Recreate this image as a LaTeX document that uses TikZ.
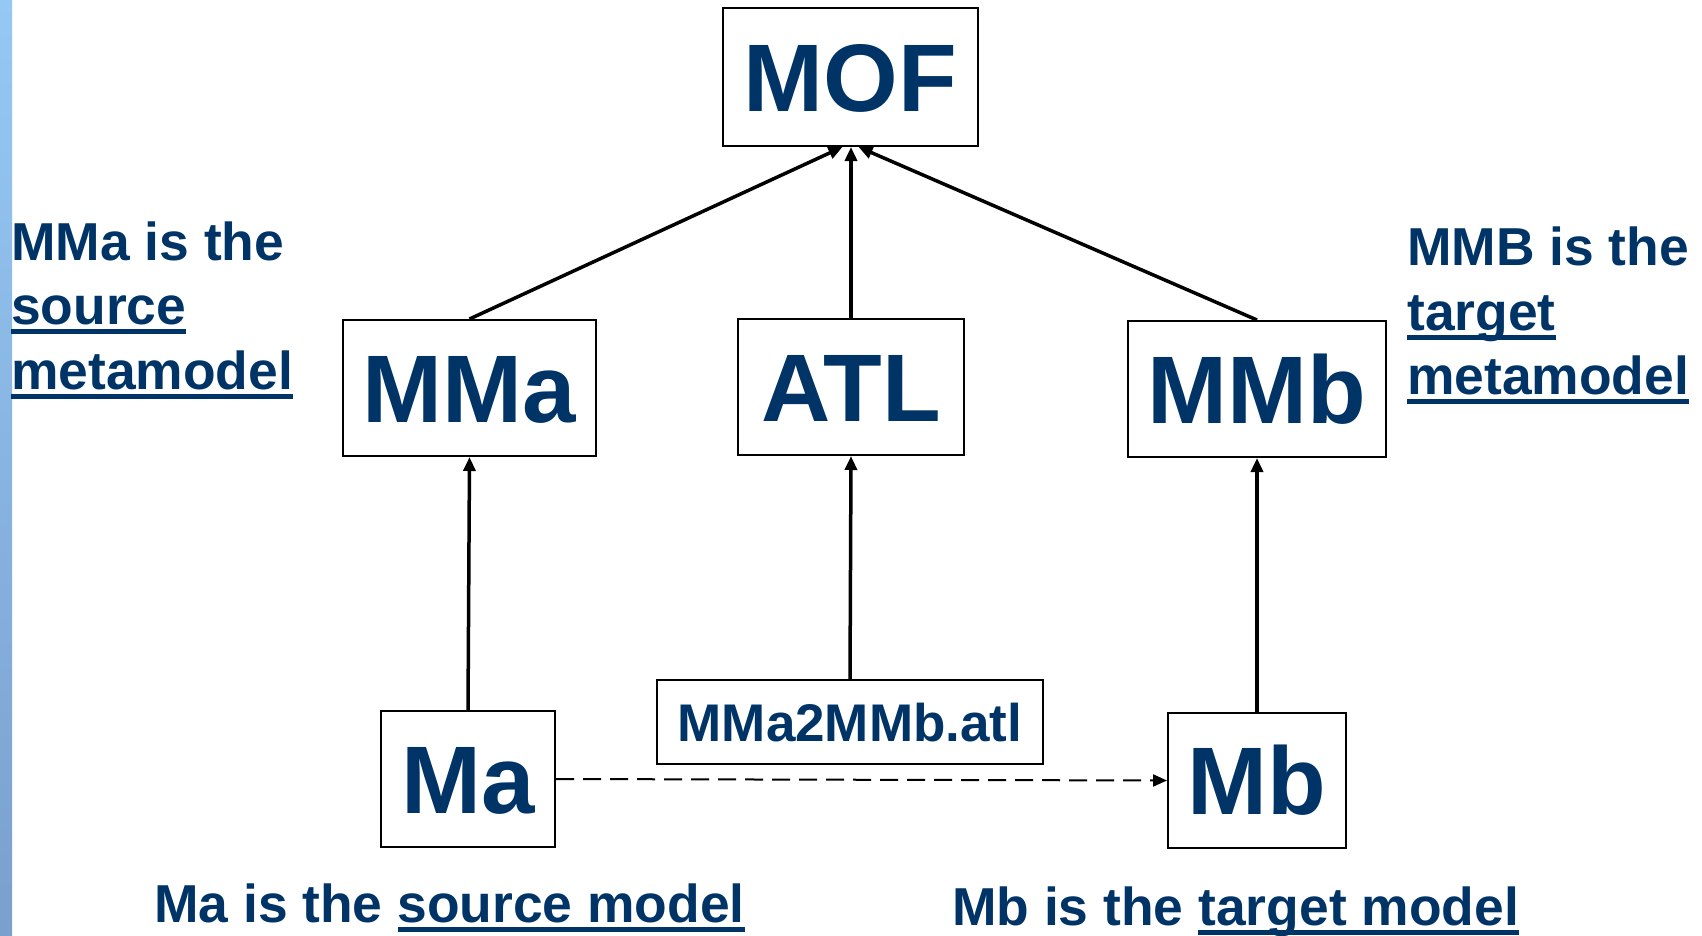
\documentclass[tikz,border=0pt]{standalone}
\usepackage{fontspec}
\setmainfont{Liberation Sans}
\usetikzlibrary{arrows.meta,calc}
\definecolor{navy}{RGB}{0,51,102}
\definecolor{bartop}{RGB}{150,200,245}
\definecolor{barbot}{RGB}{122,160,205}
\newcommand\ulx[1]{\setbox0\hbox{#1}\rlap{\rule[-10pt]{\wd0}{5pt}}\box0}
\begin{document}
\begin{tikzpicture}[x=1pt,y=-1pt,
  box/.style={draw=black,line width=2pt,fill=white,inner sep=0pt,text=navy,
    font=\bfseries\fontsize{96}{100}\selectfont,text height=68.7pt,text depth=0pt},
  smallbox/.style={box,font=\bfseries\fontsize{53}{60}\selectfont,text height=38pt},
  lbl/.style={anchor=base west,inner sep=0pt,text=navy,font=\bfseries\fontsize{53.4}{60}\selectfont},
  up/.style={line width=3.5pt,-{Triangle[length=14pt,width=12pt]}},
  flow/.style={line width=2pt,dash pattern=on 18pt off 9pt,-{Triangle[length=14pt,width=12pt]}}]
\useasboundingbox (0,0) rectangle (1702,935);
\fill[white] (0,0) rectangle (1702,935);
\shade[top color=bartop,bottom color=barbot] (0,0) rectangle (12,935);
\node[box,minimum width=255pt,minimum height=138pt] (MOF) at (850.5,77) {MOF};
\node[box,minimum width=253pt,minimum height=136pt] (MMa) at (469.5,388) {MMa};
\node[box,minimum width=226pt,minimum height=136pt] (ATL) at (851,387) {ATL};
\node[box,minimum width=258pt,minimum height=136pt] (MMb) at (1257,389) {MMb};
\node[box,minimum width=174pt,minimum height=136pt] (Ma) at (468,779) {Ma};
\node[smallbox,minimum width=386pt,minimum height=84pt] (T) at (850,722) {MMa2MMb.atl};
\node[box,minimum width=178pt,minimum height=135pt] (Mb) at (1257,780.5) {Mb};
\coordinate (mL) at ($(MOF.south)+(-8,0)$);
\coordinate (mC) at ($(MOF.south)+(0.5,0)$);
\coordinate (mR) at ($(MOF.south)+(8,0)$);
\draw[up] (MMa.north) -- (mL);
\draw[up] (ATL.north) -- (mC);
\draw[up] (MMb.north) -- (mR);
\draw[up] (Ma.north) -- (MMa.south);
\draw[up] (T.north) -- (ATL.south);
\draw[up] (Mb.north) -- (MMb.south);
\draw[flow] (Ma.east) -- (Mb.west);
\node[lbl] (l1) at (11,260) {MMa is the};
\node[lbl] (l2) at (11,324) {\ulx{source}};
\node[lbl] (l3) at (11,389) {\ulx{metamodel}};
\node[lbl] (r1) at (1407,265) {MMB is the};
\node[lbl] (r2) at (1407,330) {\ulx{target}};
\node[lbl] (r3) at (1407,394) {\ulx{metamodel}};
\node[lbl] (b1) at (154,922) {Ma is the \ulx{source model}};
\node[lbl] (b2) at (952,925) {Mb is the \ulx{target model}};
\end{tikzpicture}
\end{document}
